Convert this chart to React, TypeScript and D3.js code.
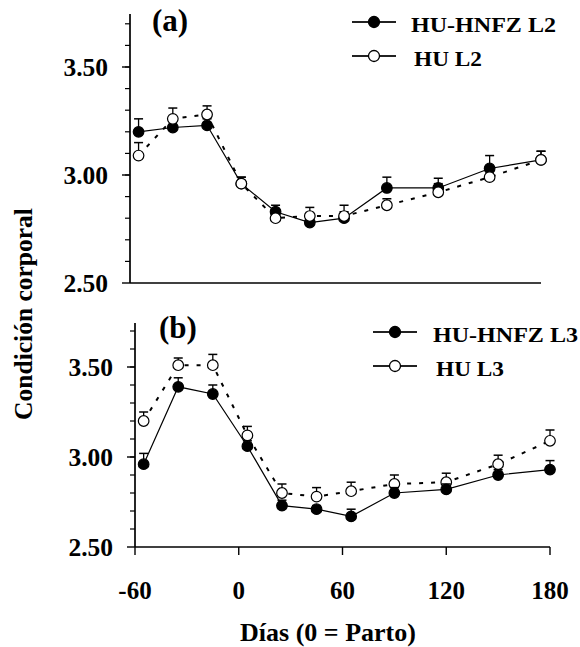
import { scaleLinear, line, range } from 'd3';

const days = [-55, -35, -15, 5, 25, 45, 65, 90, 120, 150, 180];
const xTicks = [-60, 0, 60, 120, 180];
const yTicks = [2.5, 3.0, 3.5];
const yMinorTicks = range(2.6, 3.75, 0.1).map((v) => +v.toFixed(2));

// panel (a): lactancia 2
const hnfzL2 = [3.2, 3.22, 3.23, 2.96, 2.83, 2.78, 2.8, 2.94, 2.94, 3.03, 3.07];
const hnfzL2Err = [0.06, 0.03, 0.03, 0.03, 0.03, 0.02, 0.03, 0.05, 0.045, 0.06, 0.04];
const huL2 = [3.09, 3.26, 3.28, 2.96, 2.8, 2.81, 2.81, 2.86, 2.92, 2.99, 3.07];
const huL2Err = [0.06, 0.05, 0.04, 0.03, 0.03, 0.04, 0.05, 0.03, 0.04, 0.03, 0.04];

// panel (b): lactancia 3
const hnfzL3 = [2.96, 3.39, 3.35, 3.06, 2.73, 2.71, 2.67, 2.8, 2.82, 2.9, 2.93];
const hnfzL3Err = [0.06, 0.05, 0.05, 0.03, 0.03, 0.02, 0.04, 0.03, 0.03, 0.03, 0.05];
const huL3 = [3.2, 3.51, 3.51, 3.12, 2.8, 2.78, 2.81, 2.85, 2.86, 2.96, 3.09];
const huL3Err = [0.05, 0.04, 0.06, 0.05, 0.05, 0.05, 0.05, 0.05, 0.05, 0.05, 0.06];

const FONT = '"Liberation Serif", "Times New Roman", serif';
const Y_TOP = 3.745;

interface Series {
  name: string;
  values: number[];
  errors: number[];
  filled: boolean;
}

interface PanelProps {
  label: string;
  left: number;
  right: number;
  top: number; // y pixel of 3.50
  bottom: number; // y pixel of 2.50
  showXTicks: boolean;
  openOnTop: boolean;
  series: Series[];
  legendX: number;
  legendY: number;
  legendTextX: number;
  labelX: number;
  labelY: number;
}

function Panel({
  label,
  left,
  right,
  top,
  bottom,
  showXTicks,
  openOnTop,
  series,
  legendX,
  legendY,
  legendTextX,
  labelX,
  labelY,
}: PanelProps) {
  const x = scaleLinear().domain([-60, 180]).range([left, right]);
  const y = scaleLinear().domain([2.5, 3.5]).range([bottom, top]);
  const ordered = [...series].sort((a, b) => (a.filled === openOnTop ? -1 : 1) - (b.filled === openOnTop ? -1 : 1));

  const path = line<number>()
    .x((_, i) => x(days[i]))
    .y((v) => y(v));

  return (
    <g>
      {/* axes */}
      <line x1={x(-60)} x2={x(-60)} y1={y(Y_TOP)} y2={y(2.5)} stroke="#000" strokeWidth={1.7} />
      <line x1={x(-60)} x2={x(180)} y1={y(2.5)} y2={y(2.5)} stroke="#000" strokeWidth={1.7} />
      {yMinorTicks.map((t) => (
        <line key={t} x1={x(-60) - 5} x2={x(-60)} y1={y(t)} y2={y(t)} stroke="#000" strokeWidth={1.2} />
      ))}
      {yTicks.map((t) => (
        <g key={t}>
          <line x1={x(-60) - 8} x2={x(-60)} y1={y(t)} y2={y(t)} stroke="#000" strokeWidth={1.4} />
          <text
            x={x(-60) - 22}
            y={y(t) + 8.5}
            textAnchor="end"
            fontFamily={FONT}
            fontWeight="bold"
            fontSize={25.5}
          >
            {t.toFixed(2)}
          </text>
        </g>
      ))}
      {showXTicks &&
        xTicks.map((t) => (
          <g key={t}>
            <line x1={x(t)} x2={x(t)} y1={y(2.5)} y2={y(2.5) + 8} stroke="#000" strokeWidth={1.4} />
            <text x={x(t)} y={y(2.5) + 52} textAnchor="middle" fontFamily={FONT} fontWeight="bold" fontSize={25}>
              {t}
            </text>
          </g>
        ))}

      {/* series */}
      {ordered.map((s) => (
        <g key={s.name}>
          <path
            d={path(s.values) ?? ''}
            fill="none"
            stroke="#000"
            strokeWidth={s.filled ? 1.2 : 2}
            strokeDasharray={s.filled ? undefined : '4 8'}
          />
          {s.values.map((v, i) => {
            const cx = x(days[i]);
            const yTop = y(v + s.errors[i]);
            return (
              <g key={i}>
                <line x1={cx} x2={cx} y1={y(v)} y2={yTop} stroke="#000" strokeWidth={1.3} />
                <line x1={cx - 4.5} x2={cx + 4.5} y1={yTop} y2={yTop} stroke="#000" strokeWidth={1.5} />
                <circle cx={cx} cy={y(v)} r={5.3} fill={s.filled ? '#000' : '#fff'} stroke="#000" strokeWidth={1.2} />
              </g>
            );
          })}
        </g>
      ))}

      {/* panel label */}
      <text x={labelX} y={labelY} fontFamily={FONT} fontWeight="bold" fontSize={31}>
        {label}
      </text>

      {/* legend */}
      {series.map((s, i) => {
        const ly = legendY + i * 34;
        return (
          <g key={s.name}>
            <line x1={legendX} x2={legendX + 44} y1={ly} y2={ly} stroke="#222" strokeWidth={2.2} />
            <circle cx={legendX + 22} cy={ly} r={5.5} fill={s.filled ? '#000' : '#fff'} stroke="#000" strokeWidth={1.3} />
            <text
              x={legendTextX + i * 3}
              y={ly + 10}
              fontFamily={FONT}
              fontWeight="bold"
              fontSize={21}
              textLength={s.name.length > 6 ? 145 : 68}
              lengthAdjust="spacingAndGlyphs"
            >
              {s.name}
            </text>
          </g>
        );
      })}
    </g>
  );
}

export default function App() {
  return (
    <svg
      width={580}
      height={647}
      viewBox="0 0 580 647"
      style={{ position: 'absolute', left: 0, top: 0, background: '#fff' }}
    >
      <Panel
        label="(a)"
        left={130}
        right={541}
        top={67}
        bottom={283}
        showXTicks={false}
        openOnTop={true}
        legendX={352}
        legendY={22}
        legendTextX={411}
        labelX={152}
        labelY={31}
        series={[
          { name: 'HU-HNFZ L2', values: hnfzL2, errors: hnfzL2Err, filled: true },
          { name: 'HU L2', values: huL2, errors: huL2Err, filled: false },
        ]}
      />
      <Panel
        label="(b)"
        left={135}
        right={550}
        top={367}
        bottom={547}
        showXTicks={true}
        openOnTop={false}
        legendX={373}
        legendY={332}
        legendTextX={433}
        labelX={159}
        labelY={338}
        series={[
          { name: 'HU-HNFZ L3', values: hnfzL3, errors: hnfzL3Err, filled: true },
          { name: 'HU L3', values: huL3, errors: huL3Err, filled: false },
        ]}
      />
      <text
        transform="translate(32, 314) rotate(-90)"
        textAnchor="middle"
        fontFamily={FONT}
        fontWeight="bold"
        fontSize={25.5}
      >
        Condición corporal
      </text>
      <text x={328} y={641} textAnchor="middle" fontFamily={FONT} fontWeight="bold" fontSize={26}>
        Días (0 = Parto)
      </text>
    </svg>
  );
}
